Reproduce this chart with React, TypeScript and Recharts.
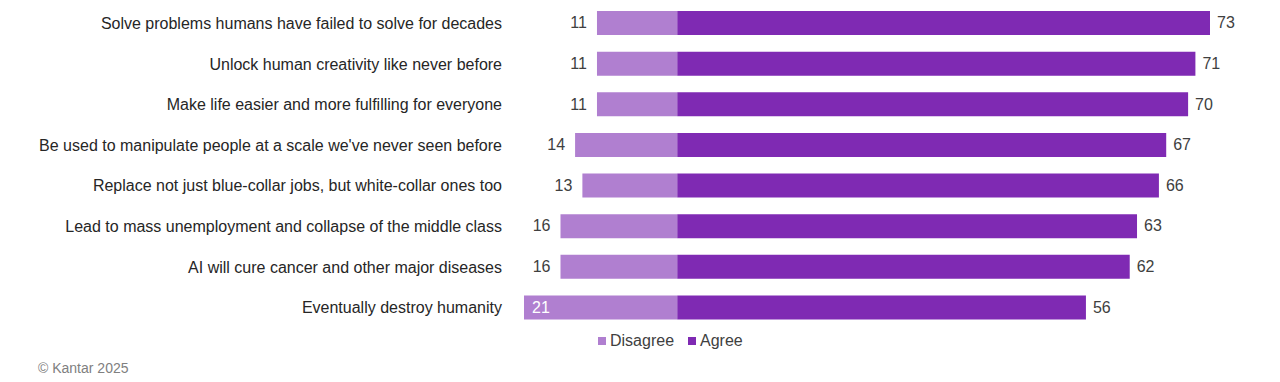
import React from "react";
import { BarChart, Bar, XAxis, YAxis, Legend, LabelList } from "recharts";

const categories = [
  "Solve problems humans have failed to solve for decades",
  "Unlock human creativity like never before",
  "Make life easier and more fulfilling for everyone",
  "Be used to manipulate people at a scale we've never seen before",
  "Replace not just blue-collar jobs, but white-collar ones too",
  "Lead to mass unemployment and collapse of the middle class",
  "AI will cure cancer and other major diseases",
  "Eventually destroy humanity",
];
const disagree = [11, 11, 11, 14, 13, 16, 16, 21];
const agree = [73, 71, 70, 67, 66, 63, 62, 56];
const legendOrder = ["Disagree", "Agree"];

const data = categories.map((c, i) => ({
  category: c,
  disagree: -disagree[i],
  agree: agree[i],
}));

const FONT = "'Liberation Sans', Arial, sans-serif";
const DIS_COLOR = "#b07fd0";
const AGR_COLOR = "#7f2ab3";

const DisLabel = (props: any) => {
  const { x, y, width, height, value } = props;
  const left = Math.min(x, x + width);
  const v = Math.abs(value);
  const inside = v >= 20;
  return (
    <text
      x={inside ? left + 8 : left - 10}
      y={y + height / 2}
      dy="0.33em"
      textAnchor={inside ? "start" : "end"}
      fill={inside ? "#ffffff" : "#404040"}
      fontSize={16}
      fontFamily={FONT}
    >
      {v}
    </text>
  );
};

const AgrLabel = (props: any) => {
  const { x, y, width, height, value } = props;
  return (
    <text
      x={x + width + 7}
      y={y + height / 2}
      dy="0.33em"
      textAnchor="start"
      fill="#404040"
      fontSize={16}
      fontFamily={FONT}
    >
      {value}
    </text>
  );
};

const LegendContent = (props: any) => {
  const payload = [...(props.payload || [])].sort(
    (a: any, b: any) => legendOrder.indexOf(a.value) - legendOrder.indexOf(b.value)
  );
  return (
    <div style={{ display: "flex", alignItems: "center", fontFamily: FONT, fontSize: 16, color: "#404040" }}>
      {payload.map((p: any, i: number) => (
        <div key={i} style={{ display: "flex", alignItems: "center", marginRight: 14 }}>
          <span style={{ display: "inline-block", width: 8, height: 8, background: p.color, marginRight: 4 }} />
          <span>{p.value}</span>
        </div>
      ))}
    </div>
  );
};

export default function App() {
  return (
    <div style={{ position: "absolute", top: 0, left: 0, width: 1280, height: 382, background: "#fff" }}>
      <BarChart
        width={1280}
        height={382}
        data={data}
        layout="vertical"
        stackOffset="sign"
        margin={{ top: 3, right: 70, bottom: 54, left: 0 }}
      >
        <XAxis type="number" hide domain={[-21, 73]} allowDataOverflow />
        <YAxis
          type="category"
          dataKey="category"
          width={524}
          axisLine={false}
          tickLine={false}
          tickSize={0}
          tickMargin={22}
          tick={{ fill: "#262626", fontSize: 16, fontFamily: FONT }}
        />
        <Legend
          verticalAlign="middle"
          layout="horizontal"
          content={<LegendContent />}
          wrapperStyle={{ top: 332, left: 598, width: 300, height: 20 }}
        />
        <Bar dataKey="disagree" name="Disagree" stackId="a" fill={DIS_COLOR} barSize={24} isAnimationActive={false}>
          <LabelList dataKey="disagree" content={<DisLabel />} />
        </Bar>
        <Bar dataKey="agree" name="Agree" stackId="a" fill={AGR_COLOR} barSize={24} isAnimationActive={false}>
          <LabelList dataKey="agree" content={<AgrLabel />} />
        </Bar>
      </BarChart>
      <div
        style={{
          position: "absolute",
          left: 38,
          top: 360,
          fontFamily: FONT,
          fontSize: 14,
          color: "#808080",
        }}
      >
        © Kantar 2025
      </div>
    </div>
  );
}
